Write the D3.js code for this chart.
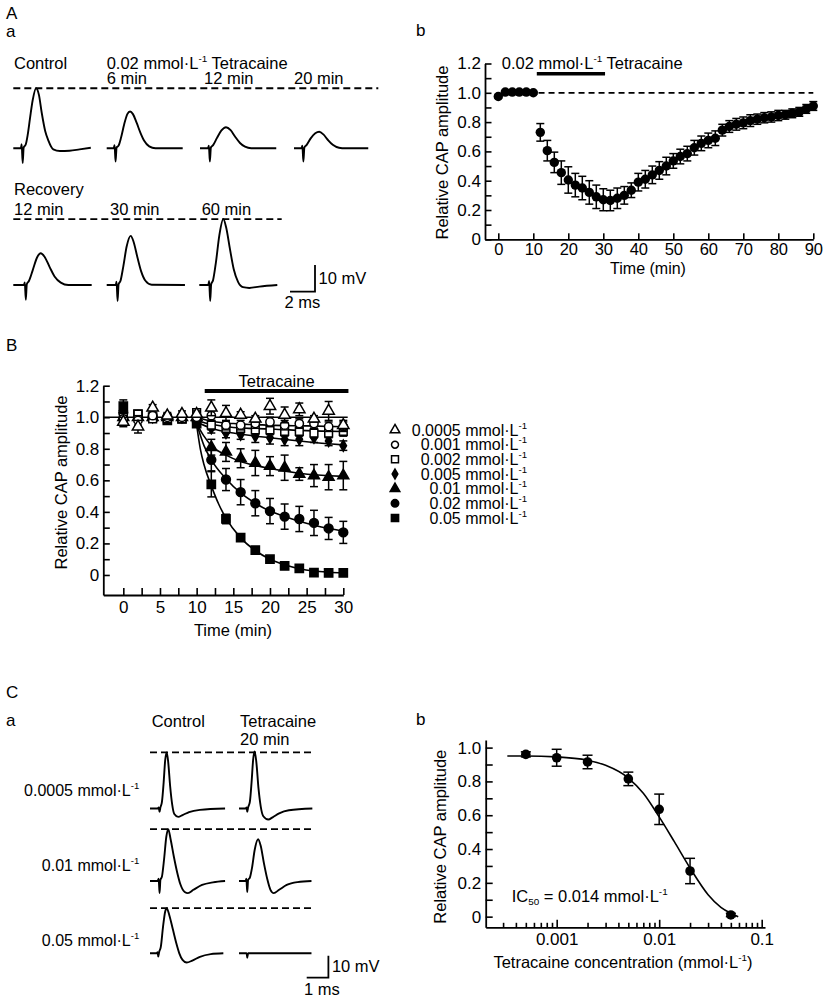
<!DOCTYPE html>
<html><head><meta charset="utf-8">
<script src="https://cdn.jsdelivr.net/npm/d3@7"></script>
<style>body{margin:0;background:#fff}svg{display:block}</style>
</head><body><svg id="fig" width="827" height="999"></svg>
<script>
// ================= DATA =================
// Panel A b : time course, 0.02 mmol/L tetracaine
const timeAb = [0,2,4,6,8,10,12,14,16,18,20,22,24,26,28,30,32,34,36,38,40,42,44,46,48,50,52,54,56,58,60,62,64,66,68,70,72,74,76,78,80,82,84,86,88,90];
const capAb  = [0.975,1.005,1.005,1.005,1.005,1.0,0.73,0.605,0.525,0.455,0.405,0.37,0.35,0.32,0.29,0.27,0.265,0.28,0.30,0.335,0.39,0.41,0.44,0.47,0.50,0.535,0.565,0.585,0.625,0.655,0.675,0.69,0.745,0.77,0.785,0.795,0.81,0.82,0.83,0.835,0.845,0.85,0.86,0.87,0.89,0.91];
const errAb  = [0.01,0.01,0.01,0.01,0.01,0.01,0.06,0.07,0.07,0.08,0.09,0.08,0.08,0.08,0.08,0.075,0.07,0.07,0.06,0.05,0.06,0.06,0.06,0.06,0.06,0.05,0.05,0.05,0.05,0.05,0.05,0.05,0.04,0.04,0.04,0.04,0.04,0.035,0.035,0.035,0.035,0.03,0.03,0.03,0.03,0.03];
const xTicksAb = [0,10,20,30,40,50,60,70,80,90];
const yTicksAb = [0,0.2,0.4,0.6,0.8,1.0,1.2];
const yMinorAb = [0.1,0.3,0.5,0.7,0.9,1.1];
const barAb = [11,30.5];

// Panel B : concentration series
const timeB = [0,2,4,6,8,10,12,14,16,18,20,22,24,26,28,30];
const b0005 = [0.97,0.94,1.06,1.01,1.02,1.02,1.06,1.025,1.015,0.99,1.07,1.015,1.05,0.99,1.04,0.95];
const e0005 = [0.03,0.04,0.02,0.02,0.02,0.02,0.05,0.05,0.02,0.02,0.05,0.05,0.04,0.02,0.06,0.03];
const b001  = [0.99,0.98,1.01,1.0,1.0,1.0,1.01,0.95,0.95,0.96,0.97,0.95,0.96,0.96,0.94,0.94];
const e001  = [0.02,0.03,0.02,0.02,0.02,0.02,0.03,0.03,0.03,0.03,0.03,0.03,0.03,0.03,0.03,0.03];
const b002  = [1.0,1.02,0.99,0.99,0.99,1.03,0.95,0.93,0.93,0.92,0.92,0.91,0.91,0.90,0.90,0.91];
const e002  = [0.02,0.02,0.02,0.02,0.02,0.02,0.03,0.03,0.03,0.03,0.03,0.03,0.03,0.03,0.03,0.03];
const b005  = [1.02,1.0,1.0,1.0,1.0,1.0,0.93,0.90,0.89,0.88,0.87,0.86,0.86,0.87,0.85,0.82];
const e005  = [0.02,0.02,0.02,0.02,0.02,0.02,0.03,0.03,0.03,0.04,0.04,0.04,0.04,0.03,0.03,0.03];
const b01   = [1.0,1.0,1.0,1.0,1.0,1.0,0.81,0.78,0.74,0.71,0.69,0.68,0.64,0.63,0.62,0.63];
const e01   = [0.02,0.02,0.02,0.02,0.02,0.02,0.05,0.06,0.06,0.08,0.06,0.08,0.04,0.07,0.08,0.09];
const b02   = [1.03,1.0,1.0,1.0,1.0,0.98,0.73,0.605,0.525,0.455,0.405,0.37,0.355,0.33,0.295,0.27];
const e02   = [0.02,0.02,0.02,0.02,0.02,0.02,0.07,0.07,0.08,0.08,0.08,0.08,0.08,0.08,0.07,0.07];
const b05   = [1.07,1.02,1.0,0.98,0.99,0.96,0.575,0.355,0.237,0.158,0.10,0.057,0.042,0.015,0.013,0.013];
const e05   = [0.04,0.02,0.02,0.02,0.02,0.02,0.08,0.03,0.01,0.01,0.01,0.01,0.01,0.01,0.01,0.01];
const concLabelsB = ["0.0005","0.001","0.002","0.005","0.01","0.02","0.05"];
// fitted curves ([time, value])
const fitB001 = [[10,1.0],[12,0.975],[15,0.96],[20,0.95],[25,0.945],[30,0.94]];
const fitB002 = [[10,0.98],[12,0.955],[15,0.935],[20,0.925],[25,0.915],[30,0.91]];
const fitB005 = [[10,0.97],[12,0.93],[15,0.90],[20,0.87],[25,0.845],[30,0.825]];
const fitB01  = [[10,0.96],[11,0.88],[12,0.82],[14,0.76],[16,0.72],[18,0.695],[20,0.675],[24,0.645],[30,0.625]];
const fitB02  = [[10,0.96],[11,0.82],[12,0.73],[14,0.61],[16,0.52],[18,0.455],[20,0.405],[22,0.37],[24,0.34],[26,0.315],[28,0.295],[30,0.28]];
const fitB05  = [[10,0.95],[10.5,0.80],[11,0.70],[12,0.565],[13,0.45],[14,0.36],[16,0.235],[18,0.155],[20,0.10],[22,0.065],[24,0.04],[26,0.025],[28,0.017],[30,0.012]];
const xTicksB = [0,5,10,15,20,25,30];
const xMinorB = [2.5,7.5,12.5,17.5,22.5,27.5];
const yTicksB = [0,0.2,0.4,0.6,0.8,1.0,1.2];
const yMinorB = [0.1,0.3,0.5,0.7,0.9,1.1];
const barB = [11.1,30.7];

// Panel C b : concentration-response
const concC = [0.0005,0.001,0.002,0.005,0.01,0.02,0.05];
const capC  = [0.96,0.94,0.915,0.815,0.635,0.27,0.01];
const errC  = [0.015,0.05,0.04,0.04,0.09,0.075,0.01];
const fitConcC = [0.00033,0.0005,0.001,0.002,0.003,0.005,0.007,0.01,0.014,0.02,0.03,0.04,0.05,0.059];
const fitValC  = [0.95,0.95,0.945,0.925,0.895,0.82,0.73,0.59,0.445,0.288,0.13,0.055,0.02,0.0];
const xTicksC = [0.001,0.01,0.1];
const xMinorC = [0.0003,0.0004,0.0005,0.0006,0.0007,0.0008,0.0009,0.002,0.003,0.004,0.005,0.006,0.007,0.008,0.009,0.02,0.03,0.04,0.05,0.06,0.07,0.08,0.09];
const yTicksC = [0,0.2,0.4,0.6,0.8,1.0];
const yMinorC = [0.1,0.3,0.5,0.7,0.9];

// Traces (time ms, voltage mV relative to baseline)
const trA_ctrl  = [[0,0],[0.6,0],[0.67,1.5],[0.75,-5.5],[0.83,0.3],[1.0,1.5],[1.15,5],[1.33,11],[1.55,18],[1.82,22.5],[2.05,20],[2.27,13.4],[2.55,6.5],[2.8,3],[3.2,-0.4],[3.73,-1.0],[4.5,-0.9],[5.3,-0.4],[6.2,0.2]];
const trA_6     = [[0,0],[0.56,0],[0.63,1.2],[0.71,-5],[0.79,0.3],[0.95,1],[1.15,4],[1.4,9],[1.65,12.8],[1.87,13.8],[2.1,12.8],[2.4,9.5],[2.7,5.8],[3.0,2.8],[3.4,0.7],[3.9,0],[6.08,0]];
const trA_12    = [[0,0],[0.64,0],[0.71,1],[0.79,-5],[0.87,0.3],[1.05,1.2],[1.35,3.8],[1.7,6.6],[2.08,7.9],[2.45,6.8],[2.8,4.4],[3.2,2],[3.6,0.6],[4.1,0],[6.1,0]];
const trA_20    = [[0,0],[0.6,0],[0.67,1],[0.75,-5],[0.83,0.3],[1.0,1.2],[1.35,3.8],[1.7,5.6],[2.02,6.2],[2.35,5.2],[2.7,3.2],[3.1,1.3],[3.6,0.2],[4.1,0],[5.94,0]];
const trA_r12   = [[0,0],[0.85,0],[0.92,1],[1.0,-5.5],[1.08,0.3],[1.25,1.5],[1.55,5.5],[1.9,10.3],[2.19,11.9],[2.5,10.6],[2.9,6.8],[3.3,3.2],[3.8,0.9],[4.4,0],[6.27,0]];
const trA_r30   = [[0,0],[0.72,0],[0.79,1.2],[0.87,-6],[0.95,0.3],[1.1,1.5],[1.33,7],[1.6,14.5],[1.92,18.4],[2.15,16.2],[2.45,10.5],[2.75,5.2],[3.1,1.6],[3.6,0.1],[6.26,0]];
const trA_r60   = [[0,0],[0.72,0],[0.79,1.5],[0.87,-6],[0.95,0.3],[1.1,1.8],[1.33,8.5],[1.6,18.5],[1.92,24.7],[2.15,21.5],[2.45,13.5],[2.75,6],[3.1,1.2],[3.5,-0.8],[4.0,-1.1],[4.8,-0.6],[6.24,0]];

const trC_c1 = [[0,0],[0.35,0],[0.4,0.5],[0.44,-1.5],[0.48,0.5],[0.55,3],[0.63,12],[0.7,22],[0.77,25.5],[0.84,21],[0.93,10],[1.02,2],[1.12,-2.5],[1.3,-3.8],[1.5,-3],[1.8,-1.6],[2.3,-0.6],[3.46,0]];
const trC_t1 = [[0,0],[0.3,0],[0.35,0.5],[0.38,-1.5],[0.42,0.5],[0.5,3],[0.58,12],[0.65,22],[0.72,25.9],[0.8,21],[0.9,9],[1.0,1],[1.12,-3.5],[1.35,-5],[1.55,-4],[1.85,-2.2],[2.3,-0.8],[3.38,0]];
const trC_c2 = [[0,0],[0.35,0],[0.4,1],[0.44,-5.5],[0.48,0.5],[0.55,2],[0.65,10],[0.75,20],[0.84,23.6],[0.95,19],[1.1,11],[1.25,4],[1.4,-1.5],[1.6,-5],[1.75,-5.5],[2.0,-4],[2.4,-1.8],[2.9,-0.6],[3.46,0]];
const trC_t2 = [[0,0],[0.3,0],[0.34,1],[0.38,-5],[0.42,0.5],[0.5,1.5],[0.6,6],[0.72,14],[0.88,19],[1.0,16],[1.15,8],[1.3,1],[1.45,-4],[1.6,-5.5],[1.85,-4],[2.2,-1.8],[2.7,-0.5],[3.34,0]];
const trC_c3 = [[0,0],[0.3,0],[0.35,0.5],[0.38,-1.5],[0.42,0.5],[0.5,3],[0.6,12],[0.7,19],[0.77,20.5],[0.9,17],[1.05,11],[1.2,5],[1.35,0],[1.5,-3],[1.69,-4.2],[1.95,-3.3],[2.3,-1.6],[2.8,-0.4],[3.38,0]];
const trC_t3 = [[0,0],[0.35,0],[0.38,-2],[0.42,0],[3.34,0]];

// ================= DRAWING =================
const FONT = '"Liberation Sans", Arial, Helvetica, sans-serif';
const svg = d3.select("#fig");
svg.append("rect").attr("width",827).attr("height",999).attr("fill","#fff");

function rich(g, x, y, parts, size, anchor, rot) {
  const t = g.append("text").attr("x",x).attr("y",y).attr("font-size",size)
    .attr("text-anchor",anchor||"start").attr("font-family",FONT).attr("fill","#000");
  if (rot) t.attr("transform",`rotate(-90,${x},${y})`);
  let cur = 0;
  parts.forEach(p => {
    const s = t.append("tspan").text(p[0]);
    let tgt = 0;
    if (p[1]==="sup") { s.attr("font-size",size*0.6); tgt = -size*0.42; }
    else if (p[1]==="sub") { s.attr("font-size",size*0.6); tgt = size*0.22; }
    if (tgt !== cur) s.attr("dy", tgt-cur);
    cur = tgt;
  });
  return t;
}
const unit = (pre, post) => [[pre+" mmol·L",""],["-1","sup"]].concat(post?[[post,""]]:[]);

function styleAxis(g, fs) {
  g.attr("font-family",FONT).attr("font-size",fs);
  g.selectAll("path.domain").attr("stroke","#000").attr("stroke-width",1.8);
  g.selectAll(".tick line").attr("stroke","#000").attr("stroke-width",1.6);
  g.selectAll(".tick text").attr("fill","#000");
}
const fmtY = d => d===0 ? "0" : d3.format(".1f")(d);

function yAxis(x, scale, major, minor, len, pad) {
  const g = svg.append("g").attr("transform",`translate(${x},0)`)
    .call(d3.axisLeft(scale).tickValues(major).tickSize(-len).tickSizeOuter(0).tickPadding(pad).tickFormat(fmtY));
  styleAxis(g, 17);
  const m = svg.append("g").attr("transform",`translate(${x},0)`)
    .call(d3.axisLeft(scale).tickValues(minor).tickSize(-len).tickFormat(""));
  m.select(".domain").remove(); styleAxis(m, 17);
}
function xAxis(y, scale, major, minor, len, lenMinor, pad, fmt, fs) {
  const g = svg.append("g").attr("transform",`translate(0,${y})`)
    .call(d3.axisBottom(scale).tickValues(major).tickSize(-len).tickSizeOuter(0).tickPadding(pad).tickFormat(fmt));
  styleAxis(g, fs||17);
  if (minor) {
    const m = svg.append("g").attr("transform",`translate(0,${y})`)
      .call(d3.axisBottom(scale).tickValues(minor).tickSize(-lenMinor).tickFormat(""));
    m.select(".domain").remove(); styleAxis(m, 17);
  }
}
function errBars(g, xs, ys, xv, yv, ev, cap) {
  xv.forEach((t,i) => {
    const x = xs(t), y1 = ys(yv[i]-ev[i]), y2 = ys(yv[i]+ev[i]);
    g.append("line").attr("x1",x).attr("x2",x).attr("y1",y1).attr("y2",y2);
    g.append("line").attr("x1",x-cap).attr("x2",x+cap).attr("y1",y1).attr("y2",y1);
    g.append("line").attr("x1",x-cap).attr("x2",x+cap).attr("y1",y2).attr("y2",y2);
  });
  g.attr("stroke","#000").attr("stroke-width",1.5);
}
function trace(data, x0, base, pxMs, pxMv) {
  const xs = d3.scaleLinear().domain([0,1]).range([x0, x0+pxMs]);
  const ys = d3.scaleLinear().domain([0,1]).range([base, base-pxMv]);
  svg.append("path").datum(data)
    .attr("d", d3.line().x(d=>xs(d[0])).y(d=>ys(d[1])).curve(d3.curveMonotoneX))
    .attr("fill","none").attr("stroke","#000").attr("stroke-width",1.9).attr("stroke-linejoin","round");
  return {xs, ys};
}
function dashed(x1, x2, y) {
  svg.append("line").attr("x1",x1).attr("x2",x2).attr("y1",y).attr("y2",y)
    .attr("stroke","#000").attr("stroke-width",1.8).attr("stroke-dasharray","7,4");
}
function label(x, y, s, size, anchor) {
  return svg.append("text").attr("x",x).attr("y",y).attr("font-size",size||16.5)
    .attr("text-anchor",anchor||"start").attr("font-family",FONT).attr("fill","#000").text(s);
}

// ---------- panel letters ----------
label(6,19,"A",17); label(6,37,"a",17); label(416,36,"b",17);
label(6,351,"B",17);
label(6,698,"C",17); label(6,726,"a",17); label(416,725,"b",17);

// ---------- Panel A a (traces) ----------
const pxMsA = 12.5, pxMvA = 2.67;
label(14,68.5,"Control");
rich(svg,106.7,68.5,unit("0.02"," Tetracaine"),16.5);
label(106.7,84,"6 min"); label(204,84,"12 min"); label(294,84,"20 min");
const rowA1 = 148.3, rowA2 = 285;
const tA1 = trace(trA_ctrl, 13.3, rowA1, pxMsA, pxMvA);
trace(trA_6, 106.7, rowA1, pxMsA, pxMvA);
trace(trA_12, 200, rowA1, pxMsA, pxMvA);
trace(trA_20, 294, rowA1, pxMsA, pxMvA);
dashed(13.3, 378.3, tA1.ys(d3.max(trA_ctrl, d=>d[1])));
label(14,195,"Recovery");
label(14,215,"12 min"); label(110,215,"30 min"); label(201.7,215,"60 min");
trace(trA_r12, 13.3, rowA2, pxMsA, pxMvA);
trace(trA_r30, 106.7, rowA2, pxMsA, pxMvA);
const tA2 = trace(trA_r60, 199.3, rowA2, pxMsA, pxMvA);
dashed(13.3, 281.7, tA2.ys(d3.max(trA_r60, d=>d[1])));
// scale bar A
{
  const xs = d3.scaleLinear().domain([0,1]).range([290, 290+pxMsA]);
  const ys = d3.scaleLinear().domain([0,1]).range([291.7, 291.7-pxMvA]);
  svg.append("path").attr("d",`M${xs(0)},${ys(0)}H${xs(2)}V${ys(10)}`)
    .attr("fill","none").attr("stroke","#000").attr("stroke-width",1.8);
  label(xs(2)+3.5, 284, "10 mV");
  label(xs(1), 308, "2 ms", 16.5, "middle");
}

// ---------- Panel A b ----------
{
  const xs = d3.scaleLinear().domain([-3.8,90]).range([485,813.3]);
  const ys = d3.scaleLinear().domain([0,1.2]).range([239.3,63.5]);
  yAxis(485, ys, yTicksAb, yMinorAb, 6.5, 4);
  xAxis(239.3, xs, xTicksAb, null, 6, 0, 4, d=>d, 16.5);
  rich(svg, 448, 152.5, [["Relative CAP amplitude",""]], 16.5, "middle", true);
  label(648, 274, "Time (min)", 16, "middle");
  // reference & drug bar
  svg.append("line").attr("x1",xs(11.5)).attr("x2",xs(90)).attr("y1",ys(1)).attr("y2",ys(1))
    .attr("stroke","#000").attr("stroke-width",1.8).attr("stroke-dasharray","6,4");
  svg.append("line").attr("x1",xs(barAb[0])).attr("x2",xs(barAb[1])).attr("y1",ys(1.13)).attr("y2",ys(1.13))
    .attr("stroke","#000").attr("stroke-width",3.5);
  rich(svg, xs(1), 69.3, unit("0.02"," Tetracaine"), 16.5);
  errBars(svg.append("g"), xs, ys, timeAb, capAb, errAb, 4);
  svg.append("g").selectAll("circle").data(timeAb).join("circle")
    .attr("cx",d=>xs(d)).attr("cy",(d,i)=>ys(capAb[i])).attr("r",4.7).attr("fill","#000");
}

// ---------- Panel B ----------
{
  const xs = d3.scaleLinear().domain([-2.73,30]).range([103.3,343.3]);
  const ys = d3.scaleLinear().domain([-0.127,1.2]).range([595,385.7]);
  yAxis(103.3, ys, yTicksB, yMinorB, 6.5, 4);
  xAxis(595, xs, xTicksB, xMinorB, 7, 7, 5.5, d=>d);
  rich(svg, 66.5, 482.5, [["Relative CAP amplitude",""]], 16.5, "middle", true);
  label(233, 636, "Time (min)", 16.5, "middle");
  svg.append("line").attr("x1",xs(barB[0])).attr("x2",xs(barB[1])).attr("y1",ys(1.167)).attr("y2",ys(1.167))
    .attr("stroke","#000").attr("stroke-width",4);
  label(xs((barB[0]+barB[1])/2), 386.7, "Tetracaine", 16.5, "middle");
  // reference line at 1.0
  svg.append("line").attr("x1",xs(-2.73)).attr("x2",xs(30.6)).attr("y1",ys(1)).attr("y2",ys(1))
    .attr("stroke","#000").attr("stroke-width",1.6);
  const line = d3.line().x(d=>xs(d[0])).y(d=>ys(d[1])).curve(d3.curveMonotoneX);
  [fitB001,fitB002,fitB005,fitB01,fitB02,fitB05].forEach(f=>{
    svg.append("path").datum(f).attr("d",line).attr("fill","none").attr("stroke","#000").attr("stroke-width",1.6);
  });
  const series = [
    {v:b05,e:e05,type:d3.symbolSquare,size:68,fill:"#000"},
    {v:b02,e:e02,type:d3.symbolCircle,size:62,fill:"#000"},
    {v:b01,e:e01,type:d3.symbolTriangle,size:52,fill:"#000"},
    {v:b005,e:e005,type:d3.symbolDiamond,size:36,fill:"#000"},
    {v:b002,e:e002,type:d3.symbolSquare,size:60,fill:"#fff"},
    {v:b001,e:e001,type:d3.symbolCircle,size:54,fill:"#fff"},
    {v:b0005,e:e0005,type:d3.symbolTriangle,size:56,fill:"#fff"}
  ];
  series.forEach(s=>{
    errBars(svg.append("g"), xs, ys, timeB, s.v, s.e, 4);
    svg.append("g").selectAll("path").data(timeB).join("path")
      .attr("transform",(d,i)=>`translate(${xs(d)},${ys(s.v[i])})`)
      .attr("d",d3.symbol().type(s.type).size(s.size))
      .attr("fill",s.fill).attr("stroke","#000").attr("stroke-width",1.5);
  });
  // legend
  const legY = d3.scaleLinear().domain([0,6]).range([430,518]);
  const legSym = [
    {type:d3.symbolTriangle,size:40,fill:"#fff"},
    {type:d3.symbolCircle,size:38,fill:"#fff"},
    {type:d3.symbolSquare,size:48,fill:"#fff"},
    {type:d3.symbolDiamond,size:28,fill:"#000"},
    {type:d3.symbolTriangle,size:40,fill:"#000"},
    {type:d3.symbolCircle,size:44,fill:"#000"},
    {type:d3.symbolSquare,size:52,fill:"#000"}
  ];
  concLabelsB.forEach((c,i)=>{
    const s = legSym[i];
    svg.append("path").attr("transform",`translate(395,${legY(i)})`)
      .attr("d",d3.symbol().type(s.type).size(s.size)).attr("fill",s.fill).attr("stroke","#000").attr("stroke-width",1.5);
    rich(svg, 527, legY(i)+5.5, unit(c), 16, "end");
  });
}

// ---------- Panel C a (traces) ----------
const pxMsC = 21.7, pxMvC = 2.2;
label(151.7,727,"Control"); label(240,727,"Tetracaine"); label(240,745,"20 min");
const rowsC = [808.5, 881, 953.3];
const rowLabelY = [796, 871, 946];
const ctrlC = [trC_c1, trC_c2, trC_c3], tetC = [trC_t1, trC_t2, trC_t3];
["0.0005","0.01","0.05"].forEach((c,i)=>{
  rich(svg, 139.3, rowLabelY[i], unit(c), 16, "end");
  const tc = trace(ctrlC[i], 150, rowsC[i], pxMsC, pxMvC);
  trace(tetC[i], 239, rowsC[i], pxMsC, pxMvC);
  dashed(150, 311.7, tc.ys(d3.max(ctrlC[i], d=>d[1])));
});
{
  const xs = d3.scaleLinear().domain([0,1]).range([306.7, 306.7+pxMsC]);
  const ys = d3.scaleLinear().domain([0,1]).range([977.7, 977.7-pxMvC]);
  svg.append("path").attr("d",`M${xs(0)},${ys(0)}H${xs(1)}V${ys(10)}`)
    .attr("fill","none").attr("stroke","#000").attr("stroke-width",1.8);
  label(xs(1)+3.5, 972, "10 mV");
  label(xs(0.7), 995, "1 ms", 16.5, "middle");
}

// ---------- Panel C b ----------
{
  const xs = d3.scaleLog().domain([0.000203,0.1077]).range([485.7,765]);
  const ys = d3.scaleLinear().domain([-0.063,1.045]).range([927.3,740]);
  yAxis(485.7, ys, yTicksC, yMinorC, 7, 4.5);
  xAxis(927.3, xs, xTicksC, xMinorC, 7.5, 4.5, 6, d=>String(d));
  rich(svg, 446.5, 836.7, [["Relative CAP amplitude",""]], 16.5, "middle", true);
  rich(svg, 623, 968, [["Tetracaine concentration (mmol·L",""],["-1","sup"],[")",""]], 16.5, "middle");
  const fit = fitConcC.map((c,i)=>[c, fitValC[i]]);
  svg.append("path").datum(fit)
    .attr("d", d3.line().x(d=>xs(d[0])).y(d=>ys(d[1])).curve(d3.curveMonotoneX))
    .attr("fill","none").attr("stroke","#000").attr("stroke-width",1.6);
  errBars(svg.append("g"), xs, ys, concC, capC, errC, 5);
  svg.append("g").selectAll("circle").data(concC).join("circle")
    .attr("cx",d=>xs(d)).attr("cy",(d,i)=>ys(capC[i])).attr("r",4.8).attr("fill","#000");
  rich(svg, 511.7, 901.7, [["IC",""],["50","sub"],[" = 0.014 mmol·L",""],["-1","sup"]], 16.5, "start");
}
</script>
</body></html>
